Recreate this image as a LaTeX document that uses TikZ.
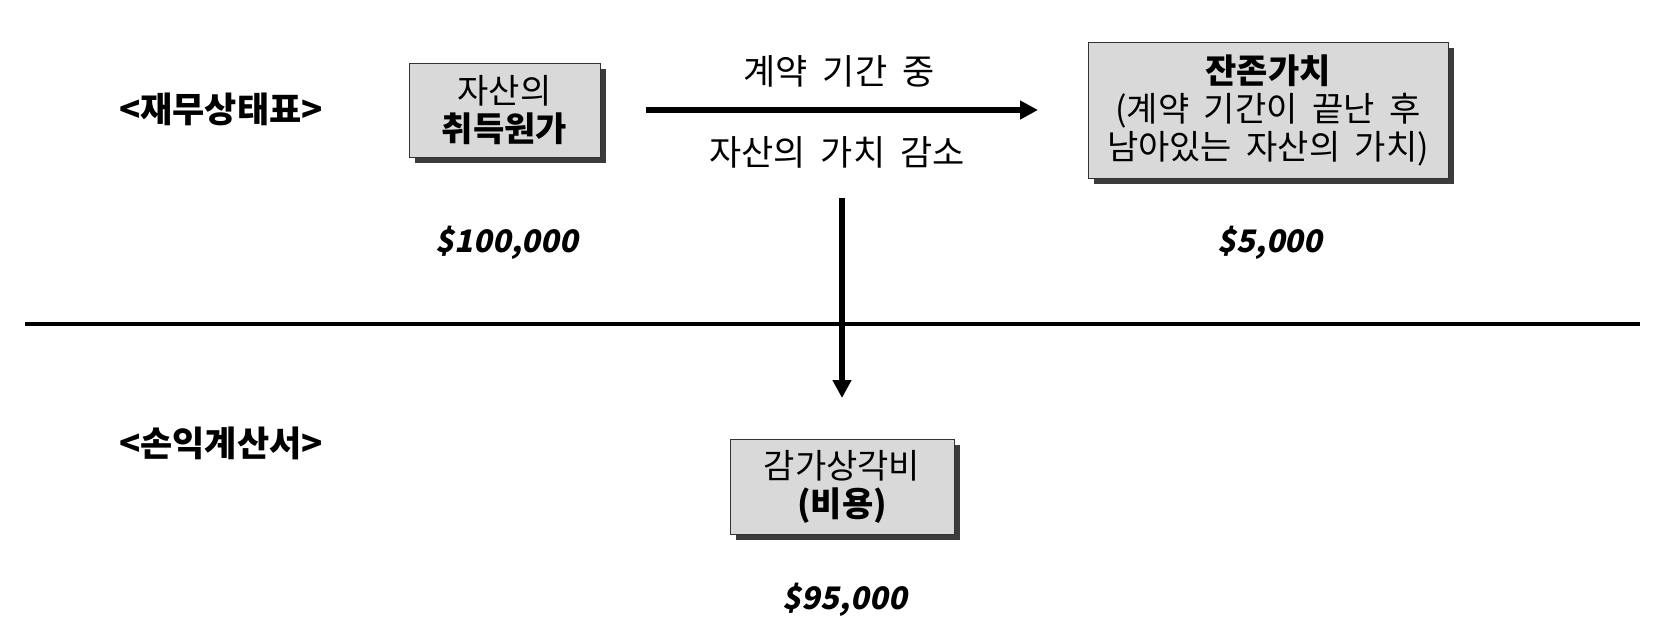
\documentclass[tikz,border=0pt]{standalone}
\usepackage{fontspec}
\setmainfont{Noto Sans CJK KR}[WordSpace=1.9]
\newfontfamily\numfont{Noto Sans CJK KR}[FakeSlant=0.2]
\usetikzlibrary{arrows.meta,shadows}
\begin{document}
\begin{tikzpicture}[x=1pt,y=-1pt,
  box/.style={draw=black!80, line width=0.8pt, fill=black!15, align=center,
    inner sep=0pt, font=\fontsize{34}{38}\selectfont,
    drop shadow={shadow xshift=6pt, shadow yshift=-6pt, fill=black!85, opacity=0.9}},
  lbl/.style={font=\fontsize{35}{38}\selectfont, inner sep=0pt},
  hdr/.style={font=\fontsize{35}{38}\selectfont\bfseries, inner sep=0pt},
  amt/.style={font=\fontsize{31}{36}\selectfont\numfont\bfseries, inner sep=0pt},
  conn/.style={line width=6pt, -{Triangle[length=18pt,width=18pt]}}
]
\useasboundingbox (0,0) rectangle (1660,638);
\fill[white] (0,0) rectangle (1660,638);

\node[hdr] (bs) at (221,109) {<재무상태표>};
\node[hdr] (is) at (221,443) {<손익계산서>};

\node[box, minimum width=191pt, minimum height=94pt] (cost) at (504.5,110) {자산의\\\textbf{취득원가}};
\node[box, minimum width=360pt, minimum height=136pt] (res) at (1268,110) {\textbf{잔존가치}\\(계약 기간이 끝난 후\\남아있는 자산의 가치)};
\node[box, minimum width=224pt, minimum height=95pt] (dep) at (842,486.5) {감가상각비\\\textbf{(비용)}};

\node[amt] (a1) at (507,243) {\$100,000};
\node[amt] (a2) at (1270,243) {\$5,000};
\node[amt] (a3) at (845,600) {\$95,000};

\node[lbl] (t1) at (839,71) {계약 기간 중};
\node[lbl] (t2) at (837,152) {자산의 가치 감소};

\coordinate (hs) at (646,110);
\coordinate (he) at (1038,110);
\coordinate (vs) at (842,198);
\coordinate (ve) at (842,398);
\coordinate (ls) at (25,324);
\coordinate (le) at (1640,324);

\draw[line width=4pt] (ls) -- (le);
\draw[conn] (hs) -- (he);
\draw[conn] (vs) -- (ve);
\end{tikzpicture}
\end{document}
